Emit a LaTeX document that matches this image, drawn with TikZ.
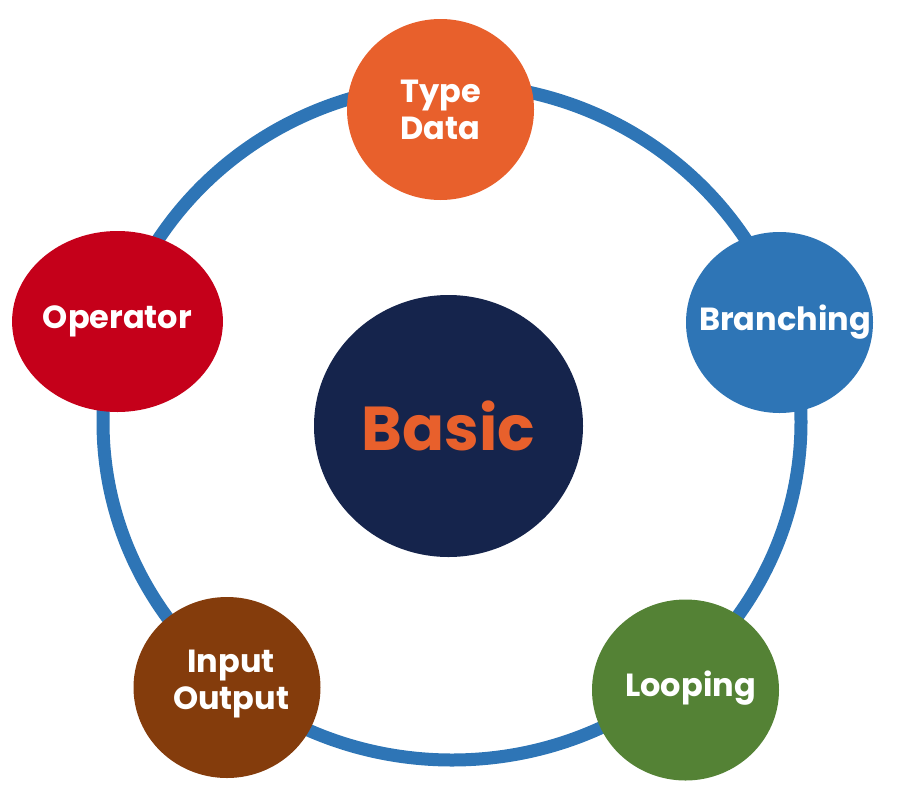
\documentclass[tikz,border=0pt]{standalone}
\usepackage{fontspec}
\setmainfont{Poppins}
\usetikzlibrary{shapes.geometric}
\definecolor{ringblue}{HTML}{2E75B6}
\definecolor{typeorange}{HTML}{E8602C}
\definecolor{opred}{HTML}{C5001A}
\definecolor{iobrown}{HTML}{843C0C}
\definecolor{loopgreen}{HTML}{548235}
\definecolor{basicnavy}{HTML}{15244C}
\tikzset{
  ringline/.style={draw=ringblue, line width=13pt},
  topictext/.style={text=white, align=center, inner sep=0pt,
    font=\bfseries\fontsize{32}{37}\selectfont},
  topic/.style={ellipse, inner sep=0pt, minimum width=187pt, minimum height=181pt,
    topictext},
  hub/.style={ellipse, inner sep=0pt, minimum width=269pt, minimum height=262pt,
    fill=basicnavy, text=typeorange, font=\bfseries\fontsize{62}{70}\selectfont}
}
\begin{document}
\begin{tikzpicture}[x=1pt,y=-1pt]
\useasboundingbox (0,0) rectangle (910,793);
\draw[ringline] (452,422) ellipse [x radius=349, y radius=338];
\node[hub] (basic) at (448.5,426) {Basic};
\node[topic, fill=typeorange] (type) at (440.5,109.5) {Type\\Data};
\node[topic, fill=ringblue] (branch) at (779.5,322.5) {};
\node[topictext] (branchtext) at (785,322) {Branching};
\node[topic, fill=opred] (op) at (117.5,321.5) {Operator};
\node[topic, fill=iobrown] (io) at (227,687.5) {};
\node[topictext] (iotext) at (231,684) {Input\\Output};
\node[topic, fill=loopgreen] (loop) at (685.5,690) {};
\node[topictext] (looptext) at (690.5,688) {Looping};
\end{tikzpicture}
\end{document}
